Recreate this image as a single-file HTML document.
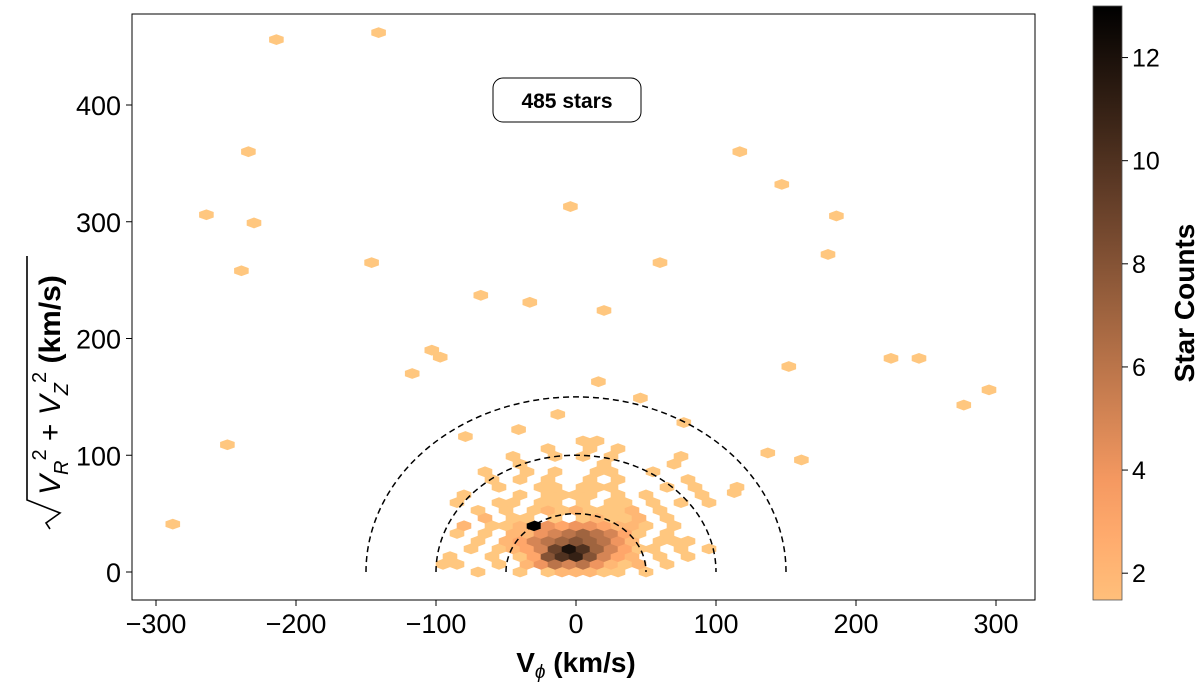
<!DOCTYPE html>
<html><head><meta charset="utf-8"><style>
body{margin:0;background:#fff;width:1200px;height:687px;overflow:hidden}
svg text{font-family:"Liberation Sans","DejaVu Sans",sans-serif}
</style></head><body>
<svg id="chart" width="1200" height="687" viewBox="0 0 1200 687" xmlns="http://www.w3.org/2000/svg">
<defs><linearGradient id="cg" x1="0" y1="1" x2="0" y2="0"></linearGradient></defs>
<g id="hexes"></g>
<g id="arcs"></g>
<rect x="132" y="14" width="903" height="586" fill="none" stroke="#000" stroke-width="1"/>
<g id="xt"></g>
<g id="yt"></g>
<text x="576" y="672" text-anchor="middle" font-size="28" font-weight="bold">V<tspan font-size="19" dy="6" font-style="italic" font-weight="normal">ϕ</tspan><tspan dy="-6"> (km/s)</tspan></text>
<g transform="translate(60,307) rotate(-90)">
<text x="-188" y="0" font-size="30" font-weight="bold"><tspan font-style="italic" font-weight="normal">V</tspan><tspan font-size="20" dy="8" font-style="italic" font-weight="normal">R</tspan><tspan font-size="20" dy="-22" font-weight="normal">2</tspan><tspan dy="14" font-weight="normal"> + </tspan><tspan font-style="italic" font-weight="normal">V</tspan><tspan font-size="20" dy="8" font-style="italic" font-weight="normal">Z</tspan><tspan font-size="20" dy="-22" font-weight="normal">2</tspan><tspan dy="14"> (km/s)</tspan></text>
<path d="M-222,-10 l6,-4 l10,14 l13,-33 h244" fill="none" stroke="#000" stroke-width="1.6"/>
</g>
<rect x="493" y="78" width="148" height="44" rx="10" fill="#fff" stroke="#000"/>
<text x="567" y="108" text-anchor="middle" font-size="21" font-weight="bold">485 stars</text>
<rect x="1093" y="6" width="29" height="594" fill="url(#cg)" stroke="#555" stroke-width="0.8"/>
<g id="ct"></g>
<text transform="translate(1194,303) rotate(-90)" text-anchor="middle" font-size="28" font-weight="bold">Star Counts</text>
</svg>
<script>
const xTicks=[-300,-200,-100,0,100,200,300];
const yTicks=[0,100,200,300,400];
const cTicks=[2,4,6,8,10,12];
const radii=[50,100,150];
const clusterRows=[
[0,[[-70,1],[-40,1],[-20,1],[-10,2],[0,2],[10,2],[20,1],[30,1],[50,1]]],
[6.6,[[-95,1],[-85,1],[-55,1],[-35,2],[-25,4],[-15,6],[-5,5],[5,6],[15,4],[25,2],[35,1],[45,2],[65,1]]],
[13.2,[[-90,1],[-60,1],[-40,1],[-30,3],[-20,8],[-10,10],[0,11],[10,8],[20,5],[30,3],[40,2],[60,1],[80,1]]],
[19.8,[[-75,1],[-55,1],[-45,2],[-35,3],[-25,5],[-15,9],[-5,12],[5,10],[15,7],[25,5],[35,3],[45,1],[55,1],[75,1],[95,1]]],
[26.4,[[-70,1],[-50,2],[-40,3],[-30,5],[-20,6],[-10,7],[0,8],[10,7],[20,6],[30,4],[40,2],[60,1],[70,1],[80,1]]],
[33,[[-85,1],[-65,1],[-45,2],[-35,2],[-25,4],[-15,5],[-5,6],[5,7],[15,6],[25,5],[35,3],[45,1],[65,1]]],
[39.6,[[-80,2],[-60,1],[-50,1],[-40,2],[-30,13],[-20,4],[-10,3],[0,4],[10,4],[20,3],[30,2],[40,2],[50,1],[70,1]]],
[46.2,[[-65,2],[-45,1],[-35,1],[-15,1],[5,1],[15,2],[25,1],[35,1],[45,2],[65,1]]],
[52.8,[[-70,1],[-50,1],[-30,1],[-20,2],[-10,1],[0,2],[10,1],[20,1],[30,1],[40,2],[60,1]]],
[59.4,[[-85,1],[-55,1],[-45,1],[-25,1],[-15,1],[5,1],[25,1],[35,1],[55,1],[75,1],[95,1]]],
[66,[[-80,1],[-40,1],[-20,1],[-10,1],[0,1],[10,1],[30,1],[50,1],[90,1]]],
[72.6,[[-55,1],[-25,1],[-15,1],[5,1],[15,1],[25,1],[65,1],[85,1],[115,1]]],
[79.2,[[-60,1],[-40,1],[-20,1],[10,1],[30,1],[80,1]]],
[85.8,[[-65,1],[-35,1],[-15,1],[15,1],[25,1],[55,1]]],
[92.4,[[-40,1],[20,1],[70,1]]],
[99,[[-45,1],[-15,1],[5,1],[25,1],[75,1]]],
[105.6,[[-20,1],[10,1],[30,1]]],
[112.2,[[5,1],[15,1]]]
];
const outVphi=[-214,-141,-234,-264,-230,-239,-146,-4,-68,-33,20,60,-103,-97,-117,16,117,147,186,180,152,225,245,277,295,161,137,113,-288,-249,46,-13,-79,-41,77];
const outVperp=[456,462,360,306,299,258,265,313,237,231,224,265,190,184,170,163,360,332,305,272,176,183,183,143,156,96,102,68,41,109,149,135,116,122,128];
const vmin=1.48,vmax=13;
const X=v=>576+v*1.4, Y=v=>572-v*1.1675;
const NS="http://www.w3.org/2000/svg";
function mk(t,a,p){const e=document.createElementNS(NS,t);for(const k in a)e.setAttribute(k,a[k]);p.appendChild(e);return e;}
function cmap(t){let x=1-t;return `rgb(${Math.round(255*Math.min(1,1.25*x))},${Math.round(255*0.7812*x)},${Math.round(255*0.4975*x)})`;}
function col(c){return cmap(Math.max(0,Math.min(1,(c-1)/(vmax-1))));}
const grad=document.getElementById('cg');
for(let i=0;i<=10;i++){const v=vmin+(vmax-vmin)*i/10;mk('stop',{offset:i/10,'stop-color':col(v)},grad);}
const hg=document.getElementById('hexes');
function hex(vx,vy,c){const cx=X(vx),cy=Y(vy),w=7.3,h=5.4;
const p=mk('polygon',{points:`${cx},${cy-h} ${cx+w},${cy-h/2} ${cx+w},${cy+h/2} ${cx},${cy+h} ${cx-w},${cy+h/2} ${cx-w},${cy-h/2}`,fill:col(c)},hg);

}
clusterRows.forEach(r=>r[1].forEach(([vx,c])=>hex(vx,r[0],c)));
outVphi.forEach((v,i)=>hex(v,outVperp[i],1));
const ag=document.getElementById('arcs');
radii.forEach(r=>{const a=mk('path',{d:`M${X(-r)},${Y(0)} A${r*1.4},${r*1.1675} 0 0 1 ${X(r)},${Y(0)}`,fill:'none',stroke:'#000','stroke-width':1.5,'stroke-dasharray':'6,4'},ag);

});
const xt=document.getElementById('xt');
xTicks.forEach(v=>{mk('line',{x1:X(v),x2:X(v),y1:600,y2:606,stroke:'#000'},xt);
const t=mk('text',{x:X(v),y:633,'text-anchor':'middle','font-size':27},xt);t.textContent=(v<0?'\u2212':'')+Math.abs(v);

});
const yt=document.getElementById('yt');
yTicks.forEach(v=>{mk('line',{x1:126,x2:132,y1:Y(v),y2:Y(v),stroke:'#000'},yt);
const t=mk('text',{x:121,y:Y(v)+10,'text-anchor':'end','font-size':27},yt);t.textContent=v;

});
const ct=document.getElementById('ct');
const CY=v=>600-(v-vmin)/(vmax-vmin)*594;
cTicks.forEach(v=>{mk('line',{x1:1122,x2:1128,y1:CY(v),y2:CY(v),stroke:'#000'},ct);
const t=mk('text',{x:1132,y:CY(v)+9,'font-size':25},ct);t.textContent=v;

});
</script>
</body></html>
